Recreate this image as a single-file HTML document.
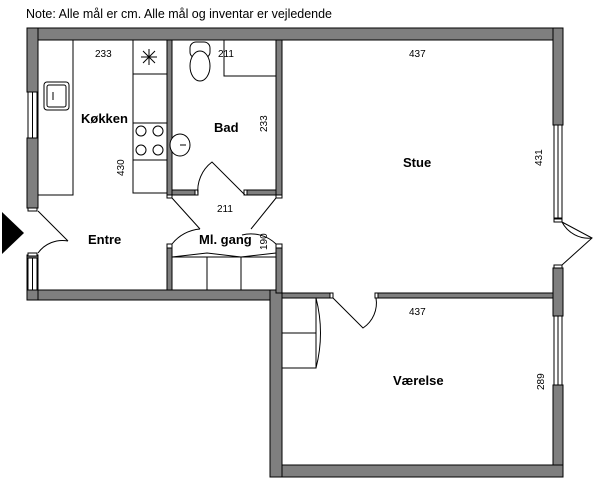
<!DOCTYPE html>
<html><head><meta charset="utf-8"><style>
html,body{margin:0;padding:0;background:#fff;width:600px;height:483px;overflow:hidden}
svg{display:block}
text{font-family:"Liberation Sans",sans-serif;fill:#000}
.b{font-weight:bold;font-size:13px}
.d{font-size:10px}
</style></head><body>
<svg width="600" height="483" viewBox="0 0 600 483">
<text x="26" y="18" font-size="12.5" textLength="306" lengthAdjust="spacingAndGlyphs">Note: Alle mål er cm. Alle mål og inventar er vejledende</text>
<g fill="#7f7f7f" stroke="#000" stroke-width="1">
<rect x="27" y="28" width="536" height="12"/>
<rect x="27" y="28" width="11" height="64"/>
<rect x="27" y="138" width="11" height="70"/>
<rect x="27" y="290" width="255" height="10"/>
<rect x="27" y="255" width="11" height="45"/>
<rect x="553" y="28" width="10" height="97"/>
<rect x="553" y="268" width="10" height="48"/>
<rect x="553" y="385" width="10" height="92"/>
<rect x="270" y="465" width="293" height="12"/>
<rect x="270" y="290" width="12" height="187"/>
<rect x="282" y="293" width="50" height="5"/>
<rect x="376" y="293" width="177" height="5"/>
<rect x="167" y="40" width="5" height="155"/>
<rect x="276" y="40" width="6" height="155"/>
<rect x="172" y="190" width="25" height="5"/>
<rect x="245" y="190" width="31" height="5"/>
<rect x="167" y="248" width="5" height="42"/>
<rect x="276" y="248" width="6" height="45"/>
</g>
<g fill="#fff" stroke="#000" stroke-width="1">
<rect x="28" y="92" width="9" height="46"/><line x1="32.5" y1="92" x2="32.5" y2="138"/>
<rect x="28" y="258" width="9" height="32"/><line x1="32.5" y1="258" x2="32.5" y2="290"/>
<rect x="554" y="125" width="8" height="93"/><line x1="558" y1="125" x2="558" y2="218"/>
<rect x="554" y="316" width="8" height="69"/><line x1="558" y1="316" x2="558" y2="385"/>
<rect x="28" y="208" width="9" height="3"/><rect x="28" y="253" width="9" height="3"/>
<rect x="554" y="219" width="8" height="3"/><rect x="554" y="265" width="8" height="3"/>
<rect x="330" y="293" width="3" height="5"/><rect x="375" y="293" width="3" height="5"/>
<rect x="167" y="195" width="5" height="3"/><rect x="276" y="195" width="6" height="3"/>
<rect x="167" y="244" width="5" height="4"/><rect x="276" y="244" width="6" height="4"/>
<rect x="195" y="190" width="3" height="5"/><rect x="244" y="190" width="3" height="5"/>
<rect x="38" y="40" width="35" height="155"/>
<rect x="133" y="40" width="34" height="153"/>
<line x1="133" y1="74" x2="167" y2="74"/>
<rect x="133" y="123" width="34" height="37"/>
<rect x="44" y="82" width="25" height="28" rx="3"/><rect x="47" y="85" width="19" height="22" rx="2"/>
<circle cx="141" cy="131" r="5"/><circle cx="158" cy="131" r="5"/><circle cx="141" cy="150" r="5"/><circle cx="158" cy="150" r="5"/>
<rect x="190" y="42" width="20" height="16" rx="6"/>
<ellipse cx="200" cy="66" rx="10" ry="15"/>
<ellipse cx="180" cy="145" rx="10" ry="11"/>
<rect x="172" y="257" width="104" height="33"/>
<line x1="207" y1="257" x2="207" y2="290"/><line x1="241" y1="257" x2="241" y2="290"/>
<rect x="282" y="298" width="34" height="70"/><line x1="282" y1="333" x2="316" y2="333"/>
</g>
<g fill="none" stroke="#000" stroke-width="1">
<polyline points="224,40 224,76 276,76"/>
<line x1="53" y1="92" x2="53" y2="100"/>
<line x1="141" y1="57" x2="157" y2="57"/><line x1="149" y1="49" x2="149" y2="65"/><line x1="143" y1="51" x2="155" y2="63"/><line x1="155" y1="51" x2="143" y2="63"/>
<line x1="180" y1="145" x2="186" y2="145"/>
<path d="M38 211 L68 241 M68 241 A30 30 0 0 0 38 253"/>
<path d="M562 222 L592 238 L562 265 M592 238 A30 30 0 0 1 562 222"/>
<path d="M333 298 L363 328 A30 30 0 0 0 376 298"/>
<path d="M245 195 L212 162 A36 36 0 0 0 198 195"/>
<path d="M172 198 L200 229 M276 198 L251 229"/>
<path d="M172 244 A40 40 0 0 1 200 229 M276 244 A36 36 0 0 0 242 235"/>
<path d="M172 257 L207 253 L241 257 L276 253"/>
<path d="M316 298 Q325 333 316 368"/>
</g>
<polygon points="2,212 2,254 24,233" fill="#000"/>
<g>
<text class="b" x="81" y="123">Køkken</text>
<text class="b" x="214" y="132">Bad</text>
<text class="b" x="88" y="244">Entre</text>
<text class="b" x="199" y="244">Ml. gang</text>
<text class="b" x="403" y="167">Stue</text>
<text class="b" x="393" y="385">Værelse</text>
<text class="d" x="95" y="57">233</text>
<text class="d" x="218" y="57">211</text>
<text class="d" x="217" y="212">211</text>
<text class="d" x="409" y="57">437</text>
<text class="d" x="409" y="315">437</text>
<text class="d" transform="translate(124,176) rotate(-90)">430</text>
<text class="d" transform="translate(267,132) rotate(-90)">233</text>
<text class="d" transform="translate(267,250) rotate(-90)">190</text>
<text class="d" transform="translate(542,166) rotate(-90)">431</text>
<text class="d" transform="translate(544,390) rotate(-90)">289</text>
</g>
</svg>
</body></html>
